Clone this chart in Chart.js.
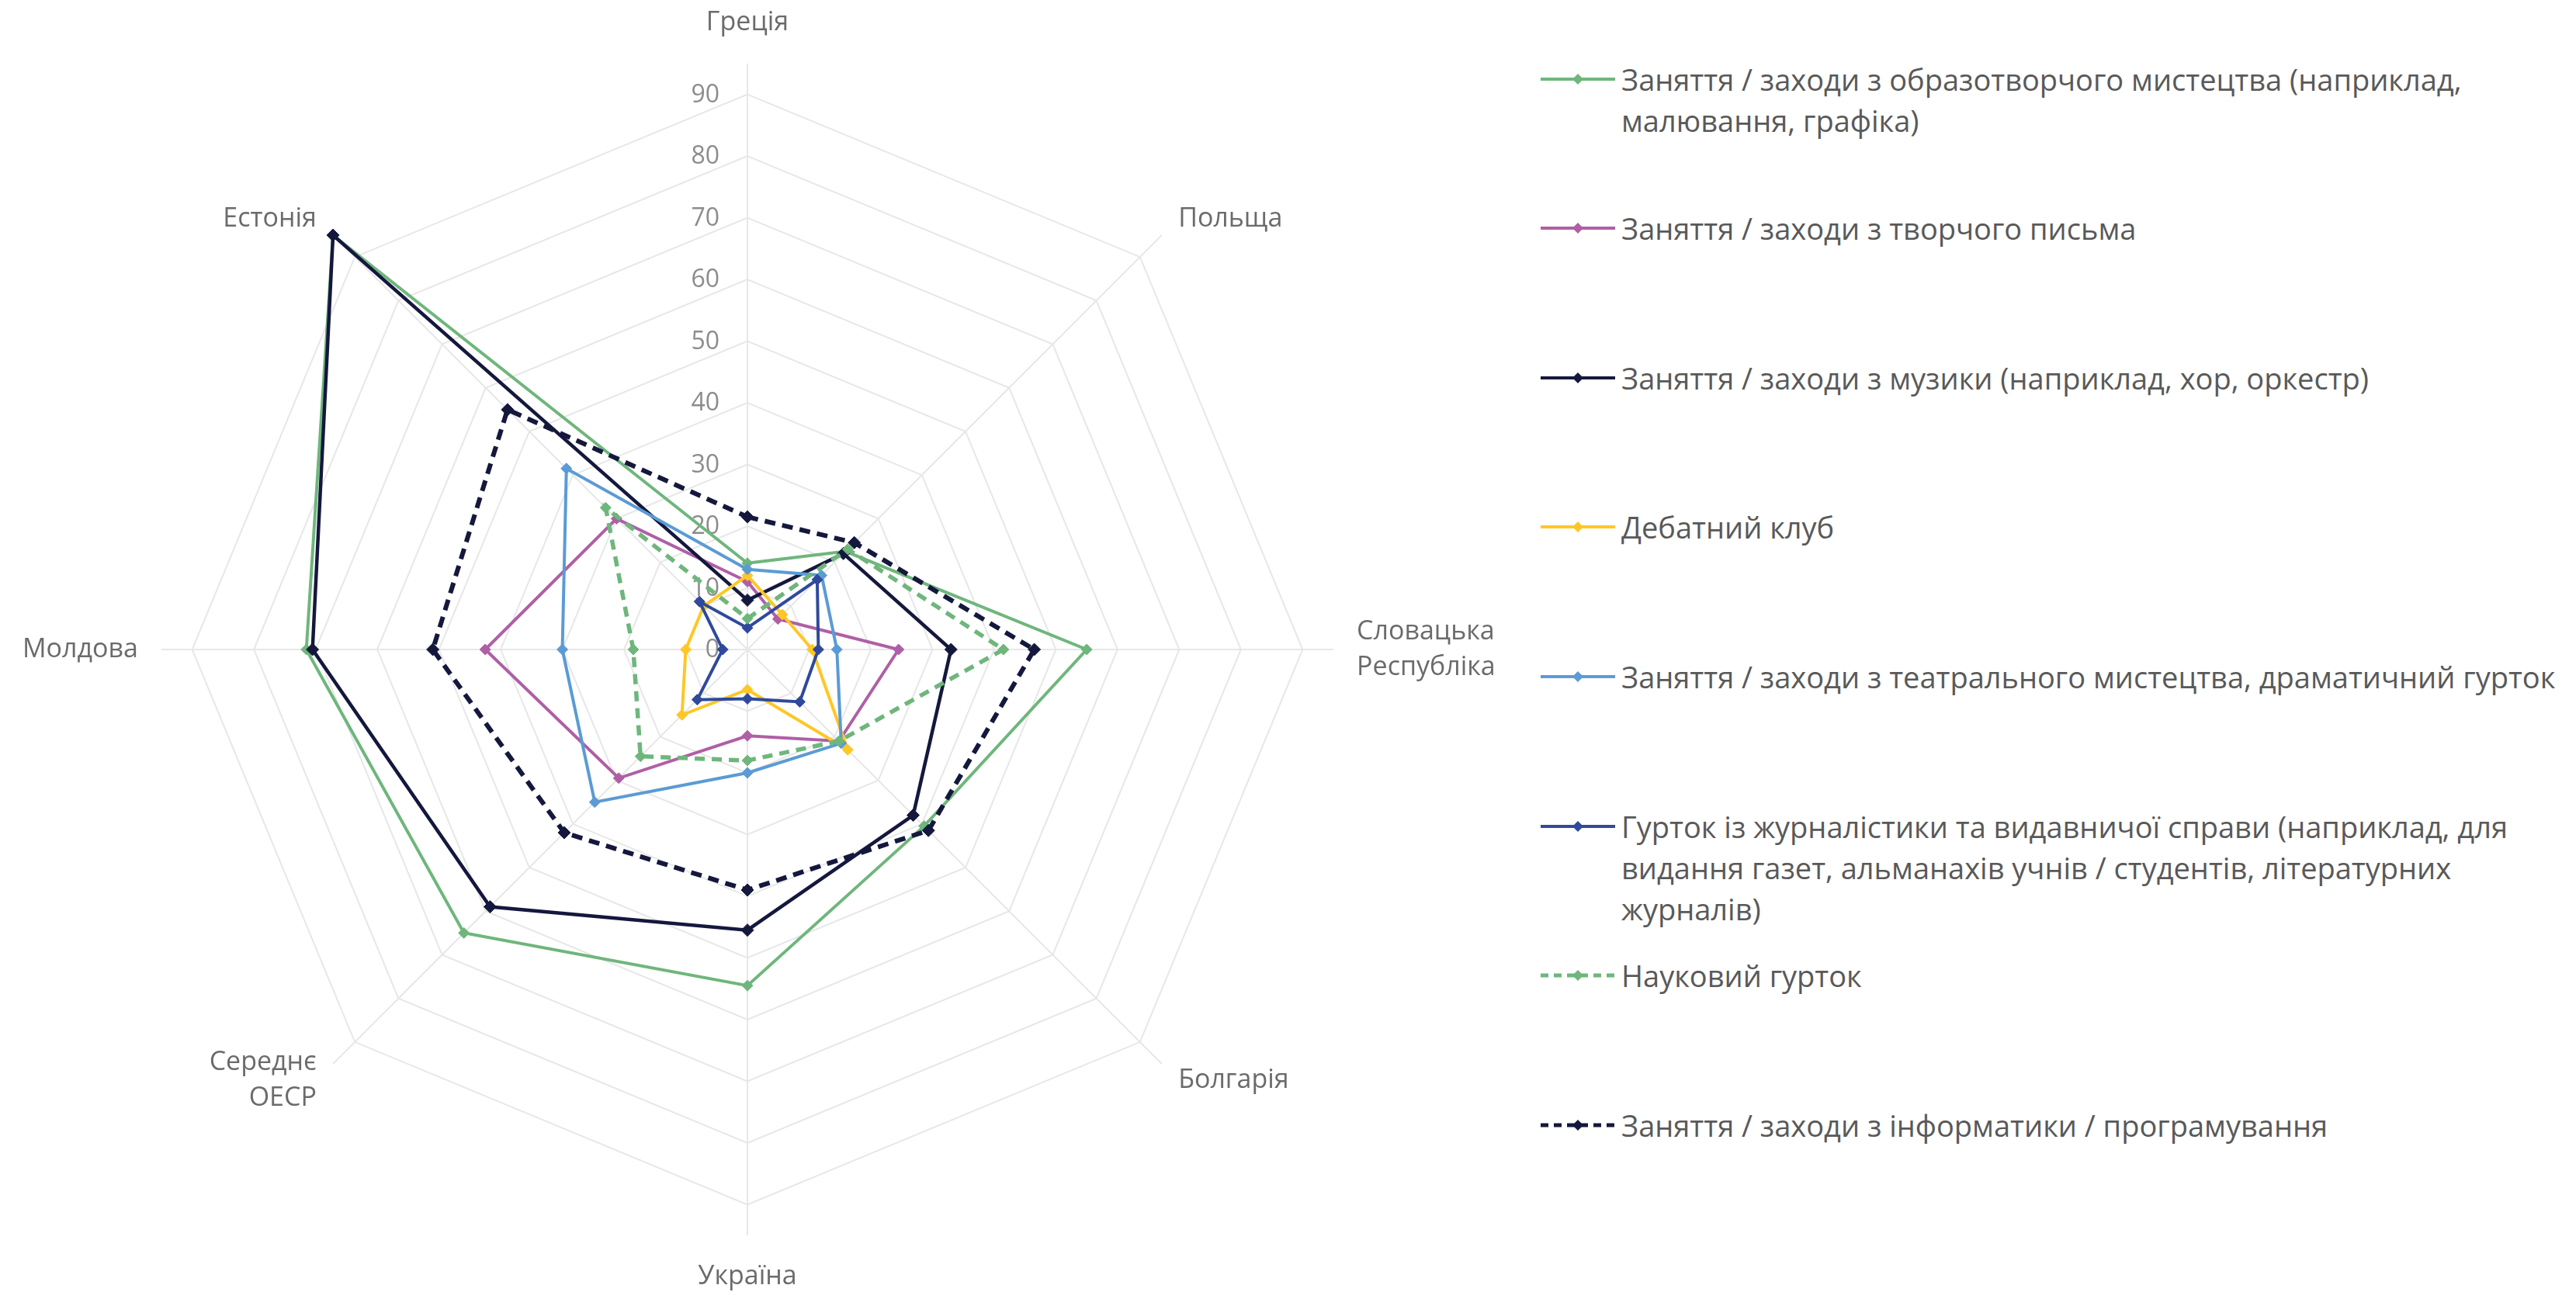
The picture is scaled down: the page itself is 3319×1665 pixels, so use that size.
<!DOCTYPE html>
<html>
<head>
<meta charset="utf-8">
<script src="https://cdn.jsdelivr.net/npm/chart.js@4.4.0/dist/chart.umd.min.js"></script>
<style>
  html, body { margin: 0; padding: 0; background: #ffffff; width: 3319px; height: 1665px; overflow: hidden; }
  #chart { position: absolute; left: 0; top: 0; }
  #legend { position: absolute; left: 0; top: 0; font-family: "Open Sans", sans-serif; font-size: 38px; color: #595959; }
  .item { position: absolute; left: 1985px; display: flex; align-items: flex-start; line-height: 53px; white-space: nowrap; }
  .item svg { flex: none; margin-top: 16px; margin-right: 8px; }
</style>
</head>
<body>
<canvas id="chart"></canvas>
<div id="legend"></div>
<script>
// ---------- data ----------
const categories = ['Греція', 'Польща', ['Словацька', 'Республіка'], 'Болгарія', 'Україна', ['Середнє', 'ОЕСР'], 'Молдова', 'Естонія'];
const tickValues = [0, 10, 20, 30, 40, 50, 60, 70, 80, 90];
const tickLabels = ['0', '10', '20', '30', '40', '50', '60', '70', '80', '90'];

const visualArts      = [14, 22.5, 55, 40.5, 54.5, 65, 71.5, 95];
const creativeWriting = [11, 7, 24.5, 21, 14, 29.5, 42.5, 30];
const music           = [8, 22, 33, 38, 45.5, 59, 70.5, 95];
const debate          = [12, 8, 10.5, 23, 6.5, 15, 10, 10];
const theatre         = [13, 17, 14.5, 21.5, 20, 35, 30, 41.5];
const journalism      = [3.5, 16, 11.5, 12, 8, 11.5, 4, 11];
const science         = [5, 23, 41.5, 21, 18, 24.5, 18.5, 32.5];
const informatics     = [21.5, 24.5, 46.5, 41.5, 39, 42, 51, 55];

const seriesLabels = [
  ['Заняття / заходи з образотворчого мистецтва (наприклад,', 'малювання, графіка)'],
  ['Заняття / заходи з творчого письма'],
  ['Заняття / заходи з музики (наприклад, хор, оркестр)'],
  ['Дебатний клуб'],
  ['Заняття / заходи з театрального мистецтва, драматичний гурток'],
  ['Гурток із журналістики та видавничої справи (наприклад, для', 'видання газет, альманахів учнів / студентів, літературних', 'журналів)'],
  ['Науковий гурток'],
  ['Заняття / заходи з інформатики / програмування']
];
const seriesValues = [visualArts, creativeWriting, music, debate, theatre, journalism, science, informatics];

// ---------- styles ----------
const seriesColors = ['#6FB67C', '#AF5FA6', '#15183D', '#FFC726', '#5B9BD5', '#2F4A9C', '#6FB67C', '#15183D'];
const seriesDashes = [[], [], [], [], [], [], [13, 9], [14, 9]];
const seriesWidths = [4, 4, 4.5, 4, 4, 4, 5.5, 6];

const FONT = '"Open Sans", sans-serif';
const PL_SIZE = 34, PL_LH = 1.35, PL_PAD = 30;
const CX = 963, CY = 837, R = 755;

// ---------- geometry (so the library's radial scale lands where the reference has it) ----------
const mctx = document.createElement('canvas').getContext('2d');
mctx.font = 'normal ' + PL_SIZE + 'px ' + FONT;
const widthOf = l => Math.max(...[].concat(l).map(s => mctx.measureText(s).width));
const wLeft = widthOf(categories[6]);
const wRight = widthOf(categories[2]);
const lineH = PL_SIZE * PL_LH;
const half = Math.round(R + PL_PAD + lineH);
const areaH = half * 2 + 1;
const padTop = CY - half;
const canvasH = padTop + areaH;
const canvasW = 2 * (CX - Math.floor((wLeft - wRight) / 2));

const canvas = document.getElementById('chart');
canvas.width = canvasW; canvas.height = canvasH;
canvas.style.width = canvasW + 'px'; canvas.style.height = canvasH + 'px';

const tickPlugin = {
  id: 'tickText',
  beforeDatasetsDraw(chart) {
    const s = chart.scales.r;
    const ctx = chart.ctx;
    ctx.save();
    ctx.font = 'normal 32px ' + FONT;
    ctx.fillStyle = '#8C8C8C';
    ctx.textAlign = 'right';
    ctx.textBaseline = 'middle';
    tickValues.forEach((v, i) => {
      const p = s.getPointPositionForValue(0, v);
      ctx.fillText(tickLabels[i], p.x - 36, p.y + 1);
    });
    ctx.restore();
  }
};

// centre the diagonal category labels vertically on their anchor, as the reference does
const labelCentering = {
  id: 'labelCentering',
  afterLayout(chart) {
    const s = chart.scales.r;
    const items = s._pointLabelItems || [];
    items.forEach((it, i) => {
      const h = it.bottom - it.top;
      if (i === 1 || i === 7) { it.y += h / 2; it.top += h / 2; it.bottom += h / 2; }
      if (i === 3 || i === 5) { it.y -= h / 2; it.top -= h / 2; it.bottom -= h / 2; }
    });
  }
};

const chart = new Chart(canvas, {
  type: 'radar',
  data: {
    labels: categories,
    datasets: seriesValues.map((vals, i) => ({
      label: seriesLabels[i].join(' '),
      data: vals,
      borderColor: seriesColors[i],
      backgroundColor: seriesColors[i],
      borderWidth: seriesWidths[i],
      borderDash: seriesDashes[i],
      fill: false,
      pointStyle: 'rectRot',
      pointRadius: i === 2 || i === 7 ? 8 : 7,
      pointBorderWidth: 1,
      pointBackgroundColor: seriesColors[i],
      pointBorderColor: seriesColors[i],
      order: seriesValues.length - 1 - i
    }))
  },
  options: {
    responsive: false,
    devicePixelRatio: 1,
    animation: false,
    layout: { padding: { top: padTop, bottom: 0, left: 0, right: 0 } },
    plugins: { legend: { display: false }, tooltip: { enabled: false } },
    scales: {
      r: {
        min: 0,
        max: 95,
        afterBuildTicks: s => { s.ticks = tickValues.map(v => ({ value: v })); },
        ticks: { display: false },
        grid: { color: '#E7E7E7', lineWidth: 2 },
        angleLines: { color: '#E7E7E7', lineWidth: 2 },
        pointLabels: {
          color: '#6B6B6B',
          padding: PL_PAD,
          font: { family: FONT, size: PL_SIZE, lineHeight: PL_LH }
        }
      }
    }
  },
  plugins: [tickPlugin, labelCentering]
});

// ---------- HTML legend ----------
const legend = document.getElementById('legend');
seriesLabels.forEach((lines, i) => {
  const item = document.createElement('div');
  item.className = 'item';
  item.style.top = (102 + 192.6 * i - 26.5) + 'px';
  const dash = seriesDashes[i].length ? 'stroke-dasharray="10,7"' : '';
  item.innerHTML =
    '<svg width="96" height="20" viewBox="0 0 96 20">' +
    '<line x1="0" y1="10" x2="96" y2="10" stroke="' + seriesColors[i] + '" stroke-width="' + (seriesDashes[i].length ? 5 : 4) + '" ' + dash + '/>' +
    '<polygon points="48,3 55,10 48,17 41,10" fill="' + seriesColors[i] + '"/>' +
    '</svg><div>' + lines.join('<br>') + '</div>';
  legend.appendChild(item);
});
</script>
</body>
</html>
